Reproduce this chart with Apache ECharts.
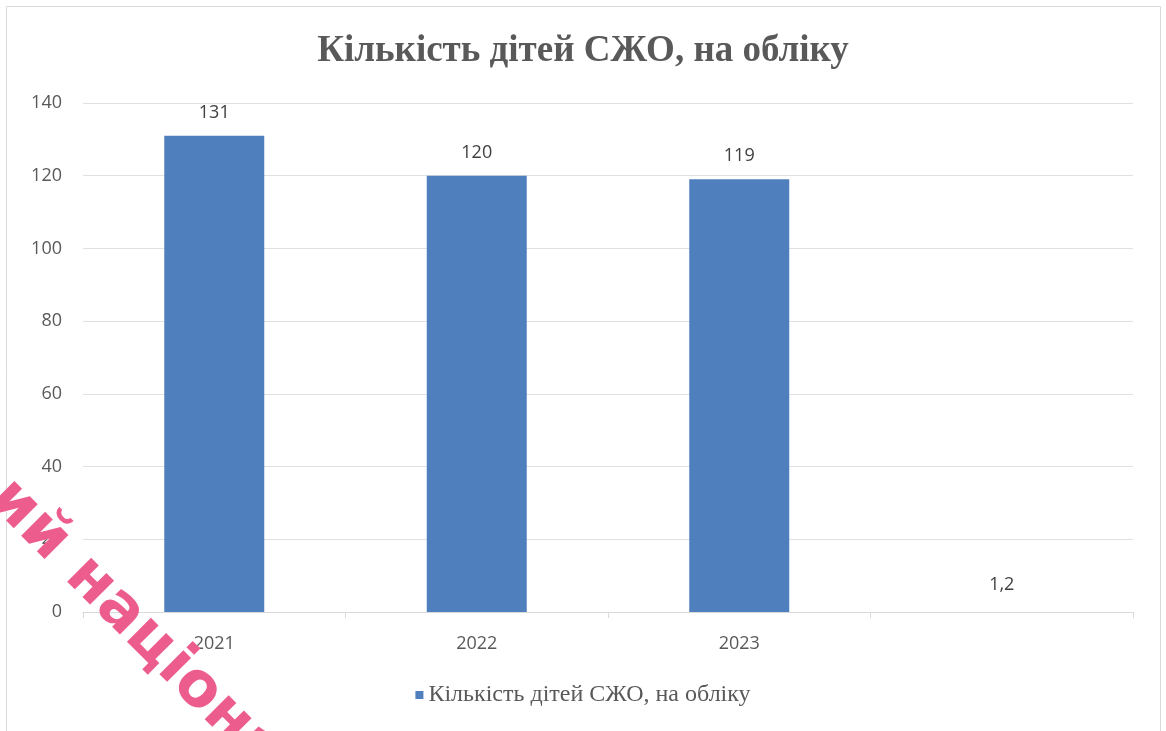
<!DOCTYPE html>
<html>
<head>
<meta charset="utf-8">
<script src="https://cdn.jsdelivr.net/npm/echarts@6/dist/echarts.min.js"></script>
<style>html,body{margin:0;padding:0;background:#fff}#c{width:1166px;height:731px}</style>
</head>
<body>
<div id="c"></div>
<script>
const titleText = 'Кількість дітей СЖО, на обліку';
const seriesName = 'Кількість дітей СЖО, на обліку';
const categories = ['2021', '2022', '2023', ''];
const values = [131, 120, 119, 1.2];
const valueLabels = ['131', '120', '119', '1,2'];
const yTicks = [0, 20, 40, 60, 80, 100, 120, 140];
const watermark = 'ий націона';

const chart = echarts.init(document.getElementById('c'));
chart.setOption({
  animation: false,
  backgroundColor: '#fff',
  title: {
    text: titleText, left: 'center', top: 28,
    textStyle: { fontFamily: '"Liberation Serif", serif', fontWeight: 'bold', fontSize: 37, color: '#595959' }
  },
  legend: {
    bottom: 19, left: 'center', itemWidth: 8, itemHeight: 8, icon: 'rect', itemGap: 6,
    textStyle: { fontFamily: '"Liberation Serif", serif', fontSize: 24, color: '#595959' },
    data: [seriesName]
  },
  grid: { left: 83, right: 33, top: 103, bottom: 119 },
  xAxis: {
    type: 'category', data: categories,
    axisLine: { lineStyle: { color: '#d9d9d9', width: 1 } },
    axisTick: { show: true, length: 6, lineStyle: { color: '#d9d9d9' } },
    axisLabel: { fontFamily: '"Open Sans", sans-serif', fontSize: 18, color: '#595959', margin: 23 }
  },
  yAxis: {
    type: 'value', min: yTicks[0], max: yTicks[yTicks.length - 1], interval: 20,
    axisLine: { show: false }, axisTick: { show: false },
    splitLine: { lineStyle: { color: '#e0e0e0', width: 1 } },
    axisLabel: { fontFamily: '"Open Sans", sans-serif', fontSize: 18, color: '#595959', margin: 21 }
  },
  series: [{
    name: seriesName, type: 'bar', barWidth: 100,
    itemStyle: { color: '#4f80bd' },
    data: values.map((v, i) => i === 3 ? { value: v, itemStyle: { color: 'rgba(0,0,0,0)' } } : v),
    label: {
      show: true, position: 'top', distance: 14,
      fontFamily: '"Open Sans", sans-serif', fontSize: 18, color: '#404040',
      formatter: p => valueLabels[p.dataIndex]
    }
  }],
  graphic: [
    { type: 'rect', shape: { x: 6.5, y: 6.5, width: 1154, height: 740 }, style: { fill: 'none', stroke: '#d9d9d9', lineWidth: 1 }, silent: true },
    { type: 'text', x: 20, y: 468, rotation: -Math.PI / 4, z: 100,
      style: { text: watermark, font: 'bold 62px "DejaVu Sans"', fill: '#ec5d8e' } }
  ]
});
</script>
</body>
</html>
